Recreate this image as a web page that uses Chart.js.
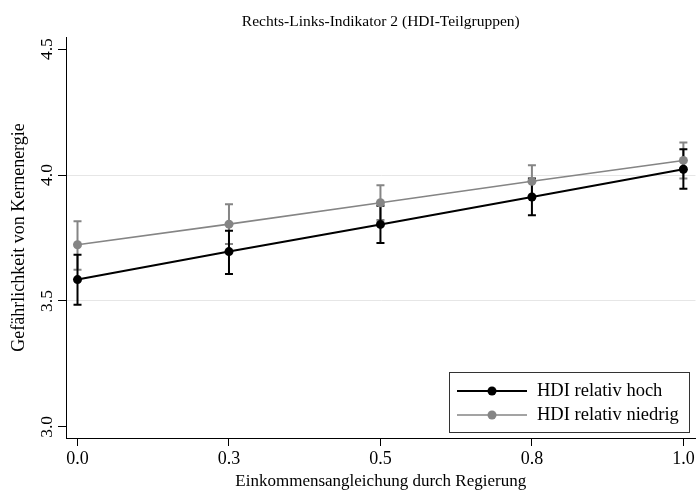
<!DOCTYPE html>
<html>
<head>
<meta charset="utf-8">
<script src="https://cdn.jsdelivr.net/npm/chart.js@4/dist/chart.umd.min.js"></script>
<style>
  html, body { margin: 0; padding: 0; background: #fff; }
</style>
</head>
<body>
<canvas id="chart" width="700" height="502"></canvas>
<script>
// x positions and their printed labels
var xValues = [0, 0.25, 0.5, 0.75, 1];
var xTickLabels = ["0.0", "0.3", "0.5", "0.8", "1.0"];
var yTickValues = [3.0, 3.5, 4.0, 4.5];
var yTickLabels = ["3.0", "3.5", "4.0", "4.5"];

var seriesNames = ["HDI relativ hoch", "HDI relativ niedrig"];
// HDI relativ hoch
var highMean = [3.585, 3.696, 3.804, 3.913, 4.023];
var highLower = [3.485, 3.607, 3.730, 3.840, 3.946];
var highUpper = [3.684, 3.779, 3.878, 3.986, 4.102];
// HDI relativ niedrig
var lowMean = [3.723, 3.805, 3.890, 3.975, 4.058];
var lowLower = [3.624, 3.726, 3.821, 3.910, 3.986];
var lowUpper = [3.817, 3.884, 3.959, 4.039, 4.129];

var serif = "'Liberation Serif', 'Times New Roman', serif";
var black = "#000000";
var grey = "#858585";

function points(ys) {
  return xValues.map(function (x, i) { return { x: x, y: ys[i] }; });
}

var errLower = [highLower, lowLower];
var errUpper = [highUpper, lowUpper];

var decor = {
  id: "decor",
  beforeDatasetsDraw: function (chart) {
    var ctx = chart.ctx, xs = chart.scales.x, ys = chart.scales.y;
    [1, 0].forEach(function (d) {
      var col = chart.data.datasets[d].borderColor;
      ctx.save();
      ctx.strokeStyle = col;
      ctx.lineWidth = 2;
      xValues.forEach(function (x, i) {
        var px = xs.getPixelForValue(x);
        var lo = ys.getPixelForValue(errLower[d][i]);
        var hi = ys.getPixelForValue(errUpper[d][i]);
        ctx.beginPath();
        ctx.moveTo(px, lo); ctx.lineTo(px, hi);
        ctx.moveTo(px - 4, lo); ctx.lineTo(px + 4, lo);
        ctx.moveTo(px - 4, hi); ctx.lineTo(px + 4, hi);
        ctx.stroke();
      });
      ctx.restore();
    });
  },
  afterDraw: function (chart) {
    var ctx = chart.ctx, area = chart.chartArea, ys = chart.scales.y;
    ctx.save();
    ctx.fillStyle = "#000";
    // title, centred on the plot region
    ctx.font = "15.5px " + serif;
    ctx.textAlign = "center";
    ctx.textBaseline = "middle";
    ctx.fillText("Rechts-Links-Indikator 2 (HDI-Teilgruppen)", (area.left + area.right) / 2, 22);
    // rotated y tick labels
    ctx.font = "17.5px " + serif;
    yTickValues.forEach(function (v, i) {
      ctx.save();
      ctx.translate(47, ys.getPixelForValue(v));
      ctx.rotate(-Math.PI / 2);
      ctx.fillText(yTickLabels[i], 0, 0);
      ctx.restore();
    });
    // legend box inside the plot
    var bx = 449, by = 372, bw = 240, bh = 60;
    ctx.fillStyle = "#fff";
    ctx.fillRect(bx, by, bw, bh);
    ctx.strokeStyle = "#333";
    ctx.lineWidth = 1;
    ctx.strokeRect(bx + 0.5, by + 0.5, bw, bh);
    var rows = [391, 415];
    ctx.font = "18.5px " + serif;
    chart.data.datasets.forEach(function (ds, i) {
      var y = rows[i];
      ctx.strokeStyle = ds.borderColor;
      ctx.lineWidth = ds.borderWidth;
      ctx.beginPath();
      ctx.moveTo(457, y); ctx.lineTo(527, y);
      ctx.stroke();
      ctx.fillStyle = ds.pointBackgroundColor;
      ctx.beginPath();
      ctx.arc(492, y, 4.5, 0, Math.PI * 2);
      ctx.fill();
      ctx.fillStyle = "#000";
      ctx.textAlign = "left";
      ctx.textBaseline = "middle";
      ctx.fillText(seriesNames[i], 537, y);
    });
    ctx.restore();
  }
};

new Chart(document.getElementById("chart"), {
  type: "line",
  data: {
    datasets: [{
      label: seriesNames[0],
      data: points(highMean),
      borderColor: black,
      backgroundColor: black,
      pointBackgroundColor: black,
      pointBorderColor: black,
      borderWidth: 2,
      pointRadius: 4.5,
      pointBorderWidth: 0
    }, {
      label: seriesNames[1],
      data: points(lowMean),
      borderColor: grey,
      backgroundColor: grey,
      pointBackgroundColor: grey,
      pointBorderColor: grey,
      borderWidth: 1.6,
      pointRadius: 4.5,
      pointBorderWidth: 0
    }]
  },
  options: {
    responsive: false,
    animation: false,
    devicePixelRatio: 1,
    layout: { padding: { top: 37, right: 4, left: 0, bottom: 0 } },
    plugins: {
      legend: { display: false },
      title: { display: false },
      tooltip: { enabled: false }
    },
    scales: {
      x: {
        type: "linear",
        min: -0.019,
        max: 1.02,
        afterBuildTicks: function (s) { s.ticks = xValues.map(function (v) { return { value: v }; }); },
        afterFit: function (s) { s.height = 64; },
        ticks: {
          callback: function (v, i) { return xTickLabels[i]; },
          font: { family: serif, size: 18 },
          color: "#000",
          padding: 2,
          maxRotation: 0,
          autoSkip: false
        },
        grid: { drawOnChartArea: false, tickLength: 8, tickColor: "#000" },
        border: { color: "#000", width: 1 },
        title: {
          display: true,
          text: "Einkommensangleichung durch Regierung",
          font: { family: serif, size: 17 },
          color: "#000",
          padding: { top: 0, bottom: 10 }
        }
      },
      y: {
        min: 2.956,
        max: 4.548,
        afterBuildTicks: function (s) { s.ticks = yTickValues.map(function (v) { return { value: v }; }); },
        afterFit: function (s) { s.width = 66; },
        ticks: { display: false },
        grid: {
          color: function (c) { return (c.index === 1 || c.index === 2) ? "#e6e6e6" : "rgba(0,0,0,0)"; },
          tickColor: "#000",
          tickLength: 8
        },
        border: { color: "#000", width: 1 },
        title: {
          display: true,
          text: "Gefährlichkeit von Kernenergie",
          font: { family: serif, size: 18 },
          color: "#000",
          padding: { top: 8, bottom: 0 }
        }
      }
    }
  },
  plugins: [decor]
});
</script>
</body>
</html>
